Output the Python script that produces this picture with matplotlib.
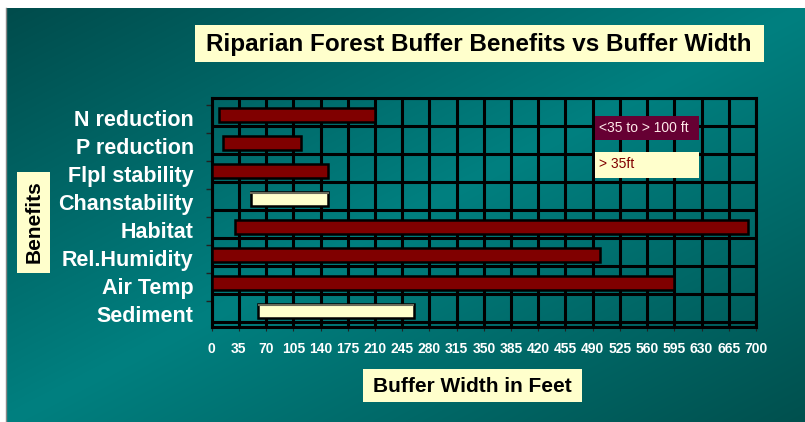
import numpy as np
import matplotlib
matplotlib.use("Agg")
import matplotlib.pyplot as plt
from matplotlib.patches import Rectangle
from matplotlib.transforms import ScaledTranslation

# ---- data ----
benefits = ["N reduction", "P reduction", "Flpl stability", "Chanstability",
            "Habitat", "Rel.Humidity", "Air Temp", "Sediment"]
start_ft = [10, 15, 0, 50, 30, 0, 0, 60]
end_ft = [210, 115, 150, 150, 690, 500, 595, 260]
group = ["wide", "wide", "wide", "narrow", "wide", "wide", "wide", "narrow"]
x_ticks = list(range(0, 701, 35))
legend_labels = {"wide": "<35 to > 100 ft", "narrow": "> 35ft"}

W, H = 805, 422
DPI = 100
fig = plt.figure(figsize=(W / DPI, H / DPI), dpi=DPI)
fig.patch.set_facecolor("white")

# ---- background gradient ----
bx0, by0 = 6, 8
bg = fig.add_axes([bx0 / W, 0, 1 - bx0 / W, (H - by0) / H])
bg.set_axis_off()
nx, ny = 300, 160
gx, gy = np.meshgrid(np.linspace(0, 1, nx), np.linspace(0, 1, ny))
t = (gx + gy) / 2.0
dark1 = np.array([0, 76, 76]) / 255
bright = np.array([0, 128, 128]) / 255
dark2 = np.array([0, 80, 78]) / 255
w = np.clip(1 - np.abs(t - 0.5) * 2, 0, 1)[..., None]
col = np.where((t < 0.5)[..., None], dark1 * (1 - w) + bright * w, dark2 * (1 - w) + bright * w)
bg.imshow(col, aspect="auto", extent=[0, 1, 1, 0], interpolation="bilinear")
bg.set_xlim(0, 1)
bg.set_ylim(1, 0)
fig.add_artist(plt.Line2D([bx0 / W, bx0 / W], [0, (H - by0) / H], color="#888888", lw=1))

def px(x, y):
    return x / W, 1 - y / H

# ---- main axes ----
left, right, top, bottom = 211.7, 756, 98, 327
ax = fig.add_axes([left / W, 1 - bottom / H, (right - left) / W, (bottom - top) / H])
ax.patch.set_alpha(0)
n = len(benefits)
ax.set_xlim(0, 700)
ax.set_ylim(n + (bottom - top - 28 * n) / 28, 0)

for xv in x_ticks:
    ax.axvline(xv, color="black", lw=2.2, zorder=1)
for yv in range(n + 1):
    ax.axhline(yv, color="black", lw=2.2, zorder=1)

colors = {"wide": "#800000", "narrow": "#FFFFCC"}
centers = [i + 0.6 for i in range(n)]
for i in range(n):
    ax.barh(centers[i], end_ft[i] - start_ft[i], left=start_ft[i], height=0.5,
            color=colors[group[i]], edgecolor="black", linewidth=1.8, zorder=3)
    if group[i] == "narrow":
        ax.plot([start_ft[i] + 1, end_ft[i] - 1], [centers[i] - 0.2, centers[i] - 0.2],
                color="#6b6b5a", lw=1.5, zorder=4)

for s in ax.spines.values():
    s.set_color("black")
    s.set_linewidth(2.2)

fam = ["Liberation Sans", "DejaVu Sans"]
ax.set_yticks(centers)
ax.set_yticklabels(benefits, fontsize=15.5, fontweight="bold", color="white", family=fam)
ax.tick_params(axis="y", length=0, pad=13)
shift = ScaledTranslation(0, -3 / DPI, fig.dpi_scale_trans)
for lab in ax.get_yticklabels():
    lab.set_transform(lab.get_transform() + shift)
ax.set_yticks([i + 0.25 for i in range(n)], minor=True)
ax.tick_params(axis="y", which="minor", length=4, color="#222222", width=1)
ax.set_xticks(x_ticks)
ax.set_xticklabels([str(v) for v in x_ticks], fontsize=10, fontweight="bold", color="white",
                   family=fam)
ax.tick_params(axis="x", length=3, color="#222222", pad=8)

# ---- text boxes ----
def box(x0, y0, x1, y1, fc):
    fx0, fy1 = px(x0, y0)
    fx1, fy0 = px(x1, y1)
    fig.add_artist(Rectangle((fx0, fy0), fx1 - fx0, fy1 - fy0, transform=fig.transFigure,
                             facecolor=fc, edgecolor="none", zorder=5))

box(195, 25, 764, 62, "#FFFFCC")
fig.text(*px(479, 45), "Riparian Forest Buffer Benefits vs Buffer Width", ha="center", va="center",
         fontsize=17.5, fontweight="bold", color="black", family=fam, zorder=6)

box(17, 172, 50, 273, "#FFFFCC")
fig.text(*px(34, 222), "Benefits", ha="center", va="center", rotation=90,
         fontsize=15, fontweight="bold", color="black", family=fam, zorder=6)

box(363, 369, 582, 402, "#FFFFCC")
fig.text(*px(472, 386), "Buffer Width in Feet", ha="center", va="center",
         fontsize=15, fontweight="bold", color="black", family=fam, zorder=6)

box(595, 116, 699, 140, "#660033")
fig.text(*px(599, 128.5), legend_labels["wide"], ha="left", va="center",
         fontsize=10, color="#FFE8E8", family=fam, zorder=6)
box(595, 152, 699, 178, "#FFFFCC")
fig.text(*px(599, 164.5), legend_labels["narrow"], ha="left", va="center",
         fontsize=10, color="#800000", family=fam, zorder=6)

fig.savefig("out.png", dpi=DPI, facecolor=fig.get_facecolor())
